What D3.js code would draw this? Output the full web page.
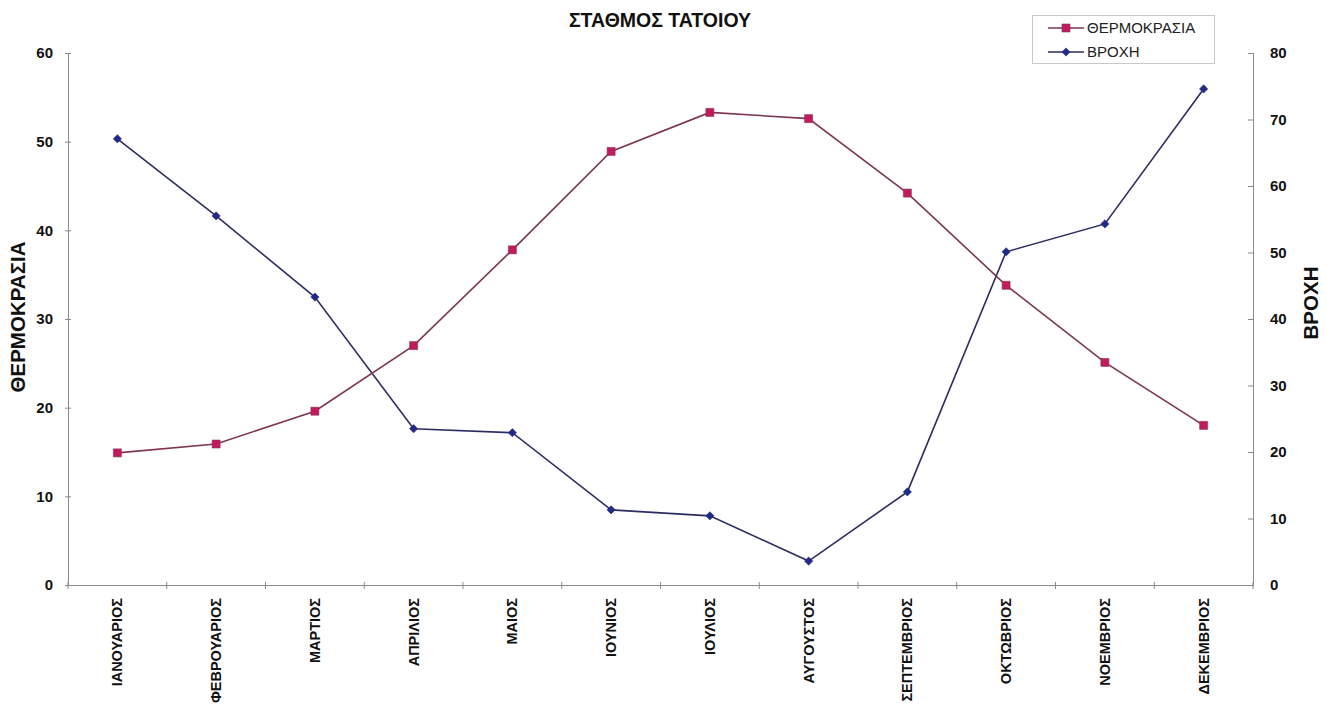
<!DOCTYPE html>
<html>
<head>
<meta charset="utf-8">
<script src="https://cdn.jsdelivr.net/npm/d3@7"></script>
<style>
  html, body { margin: 0; padding: 0; background: #fff; }
  svg { display: block; font-family: "Liberation Sans", Arial, sans-serif; }
</style>
</head>
<body>
<svg id="chart" width="1327" height="724"></svg>
<script>
// Monthly data for the Tatoi station
const months = ["ΙΑΝΟΥΑΡΙΟΣ", "ΦΕΒΡΟΥΑΡΙΟΣ", "ΜΑΡΤΙΟΣ", "ΑΠΡΙΛΙΟΣ", "ΜΑΙΟΣ", "ΙΟΥΝΙΟΣ",
                "ΙΟΥΛΙΟΣ", "ΑΥΓΟΥΣΤΟΣ", "ΣΕΠΤΕΜΒΡΙΟΣ", "ΟΚΤΩΒΡΙΟΣ", "ΝΟΕΜΒΡΙΟΣ", "ΔΕΚΕΜΒΡΙΟΣ"];
const temperature = [14.9, 15.9, 19.6, 27.0, 37.8, 48.9, 53.3, 52.6, 44.2, 33.8, 25.1, 18.0];
const rainfall = [67.1, 55.5, 43.3, 23.5, 22.9, 11.3, 10.4, 3.6, 14.0, 50.1, 54.3, 74.6];
const leftTicks = [0, 10, 20, 30, 40, 50, 60];
const rightTicks = [0, 10, 20, 30, 40, 50, 60, 70, 80];

const title = "ΣΤΑΘΜΟΣ ΤΑΤΟΙΟΥ";
const tempName = "ΘΕΡΜΟΚΡΑΣΙΑ";
const rainName = "ΒΡΟΧΗ";

const tempLine = "#7d3552", tempMark = "#c21a5c";
const rainLine = "#2c2e62", rainMark = "#1f2a8c";
const axisColor = "#8a8a8a";
const font = "'Liberation Sans', Arial, sans-serif";

const svg = d3.select("#chart");
const plot = { left: 68, right: 1253, top: 53, bottom: 585 };

const x = d3.scaleBand().domain(months).range([plot.left, plot.right]).padding(0);
const cx = m => x(m) + x.bandwidth() / 2;
const yL = d3.scaleLinear().domain([0, 60]).range([plot.bottom, plot.top]);
const yR = d3.scaleLinear().domain([0, 80]).range([plot.bottom, plot.top]);

// Title
svg.append("text")
  .attr("x", 660).attr("y", 27)
  .attr("text-anchor", "middle")
  .attr("font-size", 19.5).attr("font-weight", "bold")
  .attr("fill", "#111")
  .text(title);

// Left axis
const gL = svg.append("g")
  .attr("transform", `translate(${plot.left},0)`)
  .call(d3.axisLeft(yL).tickValues(leftTicks).tickSizeOuter(0).tickSizeInner(3).tickPadding(12));
gL.select(".domain").attr("stroke", axisColor);
gL.selectAll(".tick line").attr("x1", -3).attr("x2", 3).attr("stroke", axisColor);
gL.selectAll(".tick text").attr("font-size", 15).attr("font-weight", "bold").attr("fill", "#111")
  .attr("font-family", font);

// Right axis
const gR = svg.append("g")
  .attr("transform", `translate(${plot.right},0)`)
  .call(d3.axisRight(yR).tickValues(rightTicks).tickSizeOuter(0).tickSizeInner(3).tickPadding(14));
gR.select(".domain").attr("stroke", axisColor);
gR.selectAll(".tick line").attr("x1", -5).attr("x2", 1).attr("stroke", axisColor);
gR.selectAll(".tick text").attr("font-size", 15).attr("font-weight", "bold").attr("fill", "#111")
  .attr("font-family", font);

// Bottom axis: category labels, ticks at category boundaries
const gB = svg.append("g")
  .attr("transform", `translate(0,${plot.bottom})`)
  .call(d3.axisBottom(x).tickSize(0).tickPadding(0));
gB.select(".domain").attr("stroke", axisColor);
gB.selectAll(".tick text")
  .attr("font-size", 14.5).attr("font-weight", "bold").attr("fill", "#111")
  .attr("font-family", font)
  .attr("transform", "rotate(-90)")
  .attr("text-anchor", "end")
  .attr("x", -13).attr("y", 0).attr("dy", "0.35em");
const bounds = months.map(m => x(m)).concat([x(months[months.length - 1]) + x.bandwidth()]);
gB.selectAll("line.bound").data(bounds).enter().append("line")
  .attr("class", "bound")
  .attr("x1", d => d).attr("x2", d => d)
  .attr("y1", -3).attr("y2", 4)
  .attr("stroke", axisColor);

// Axis titles
svg.append("text")
  .attr("transform", `translate(25,317) rotate(-90)`)
  .attr("text-anchor", "middle")
  .attr("font-size", 20.5).attr("font-weight", "bold").attr("fill", "#111")
  .text(tempName);
svg.append("text")
  .attr("transform", `translate(1318,303) rotate(-90)`)
  .attr("text-anchor", "middle")
  .attr("font-size", 20.5).attr("font-weight", "bold").attr("fill", "#111")
  .text(rainName);

// Series lines
const lineT = d3.line().x((d, i) => cx(months[i])).y(d => yL(d));
const lineR = d3.line().x((d, i) => cx(months[i])).y(d => yR(d));

svg.append("path").datum(rainfall)
  .attr("d", lineR).attr("fill", "none").attr("stroke", rainLine).attr("stroke-width", 1.6);
svg.append("path").datum(temperature)
  .attr("d", lineT).attr("fill", "none").attr("stroke", tempLine).attr("stroke-width", 1.6);

// Markers: squares for temperature, small rotated squares (diamonds) for rainfall
const square = d3.symbol().type(d3.symbolSquare).size(64);
const diamond = d3.symbol().type(d3.symbolSquare).size(34);

svg.append("g").selectAll("path").data(rainfall).enter().append("path")
  .attr("d", diamond)
  .attr("transform", (d, i) => `translate(${cx(months[i])},${yR(d)}) rotate(45)`)
  .attr("fill", rainMark).attr("stroke", rainLine).attr("stroke-width", 0.6);
svg.append("g").selectAll("path").data(temperature).enter().append("path")
  .attr("d", square)
  .attr("transform", (d, i) => `translate(${cx(months[i])},${yL(d)})`)
  .attr("fill", tempMark).attr("stroke", tempLine).attr("stroke-width", 0.6);

// Legend
const lg = svg.append("g");
lg.append("rect")
  .attr("x", 1032.5).attr("y", 15.5).attr("width", 182).attr("height", 48)
  .attr("fill", "#fff").attr("stroke", "#c8c8c8").attr("stroke-width", 1);
const items = [
  { name: tempName, line: tempLine, mark: tempMark, sym: square, rot: 0, y: 28 },
  { name: rainName, line: rainLine, mark: rainMark, sym: diamond, rot: 45, y: 52 }
];
items.forEach(it => {
  lg.append("line").attr("x1", 1048).attr("x2", 1084).attr("y1", it.y).attr("y2", it.y)
    .attr("stroke", it.line).attr("stroke-width", 1.6);
  lg.append("path").attr("d", it.sym).attr("transform", `translate(1066,${it.y}) rotate(${it.rot})`)
    .attr("fill", it.mark).attr("stroke", it.line).attr("stroke-width", 0.6);
  lg.append("text").attr("x", 1087).attr("y", it.y).attr("dy", "0.36em")
    .attr("font-size", 15).attr("fill", "#222").text(it.name);
});
</script>
</body>
</html>
